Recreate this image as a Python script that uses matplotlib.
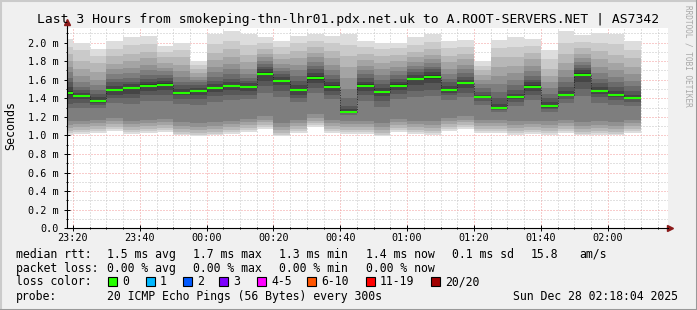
import numpy as np
import pandas as pd
import matplotlib
matplotlib.use("Agg")
import matplotlib.pyplot as plt
import matplotlib.dates as mdates
from matplotlib.patches import Rectangle
from matplotlib.lines import Line2D
from matplotlib.ticker import MultipleLocator, FuncFormatter

# ---- data (ms), one row of 20 sorted pings per 5 minute step ----
first_step = "2025-12-27 23:15"
view_start = pd.Timestamp("2025-12-27 23:18:04")
view_end = pd.Timestamp("2025-12-28 02:18:04")

median_ms = [1.46, 1.42, 1.375, 1.49, 1.51, 1.535, 1.545, 1.46, 1.48, 1.51,
             1.53, 1.52, 1.665, 1.59, 1.49, 1.62, 1.525, 1.255, 1.535, 1.47,
             1.535, 1.61, 1.63, 1.49, 1.56, 1.415, 1.29, 1.415, 1.525, 1.32,
             1.44, 1.655, 1.48, 1.44, 1.405]

loss_count = [0] * 35

smoke_ms = [
    [1.01, 1.03, 1.05, 1.08, 1.11, 1.15, 1.29, 1.34, 1.39, 1.44, 1.48, 1.52, 1.57, 1.62, 1.68, 1.74, 1.80, 1.88, 1.95, 2.04],
    [1.02, 1.04, 1.06, 1.09, 1.12, 1.16, 1.30, 1.35, 1.39, 1.41, 1.43, 1.46, 1.49, 1.52, 1.57, 1.64, 1.71, 1.80, 1.92, 2.00],
    [1.03, 1.05, 1.07, 1.10, 1.13, 1.17, 1.30, 1.33, 1.35, 1.37, 1.38, 1.41, 1.45, 1.49, 1.54, 1.60, 1.68, 1.78, 1.86, 1.93],
    [1.05, 1.07, 1.09, 1.12, 1.15, 1.19, 1.35, 1.40, 1.44, 1.48, 1.50, 1.53, 1.57, 1.61, 1.66, 1.71, 1.77, 1.85, 1.93, 2.02],
    [1.02, 1.04, 1.06, 1.09, 1.12, 1.16, 1.34, 1.40, 1.45, 1.50, 1.52, 1.55, 1.58, 1.62, 1.67, 1.73, 1.80, 1.88, 1.97, 2.06],
    [1.03, 1.05, 1.07, 1.10, 1.13, 1.17, 1.37, 1.43, 1.48, 1.52, 1.55, 1.58, 1.61, 1.65, 1.70, 1.76, 1.83, 1.90, 1.98, 2.07],
    [1.04, 1.06, 1.08, 1.11, 1.14, 1.18, 1.37, 1.43, 1.49, 1.53, 1.56, 1.59, 1.62, 1.65, 1.69, 1.73, 1.78, 1.84, 1.90, 1.96],
    [1.00, 1.02, 1.04, 1.07, 1.10, 1.14, 1.34, 1.39, 1.43, 1.45, 1.47, 1.50, 1.54, 1.58, 1.63, 1.69, 1.76, 1.84, 1.92, 2.00],
    [0.99, 1.01, 1.03, 1.06, 1.09, 1.13, 1.33, 1.39, 1.44, 1.47, 1.49, 1.51, 1.54, 1.57, 1.60, 1.63, 1.67, 1.71, 1.76, 1.80],
    [1.00, 1.02, 1.04, 1.07, 1.10, 1.14, 1.36, 1.42, 1.47, 1.50, 1.52, 1.55, 1.59, 1.63, 1.68, 1.74, 1.81, 1.89, 1.98, 2.09],
    [1.02, 1.04, 1.06, 1.09, 1.12, 1.16, 1.38, 1.44, 1.49, 1.52, 1.54, 1.57, 1.61, 1.66, 1.71, 1.77, 1.84, 1.93, 2.02, 2.12],
    [1.04, 1.06, 1.08, 1.11, 1.14, 1.18, 1.39, 1.44, 1.48, 1.51, 1.53, 1.56, 1.59, 1.62, 1.66, 1.72, 1.79, 1.87, 1.97, 2.09],
    [1.07, 1.09, 1.11, 1.14, 1.17, 1.21, 1.46, 1.53, 1.59, 1.65, 1.68, 1.71, 1.74, 1.77, 1.80, 1.84, 1.88, 1.93, 1.99, 2.06],
    [0.99, 1.01, 1.03, 1.06, 1.09, 1.13, 1.41, 1.48, 1.54, 1.58, 1.60, 1.63, 1.66, 1.69, 1.73, 1.77, 1.82, 1.88, 1.95, 2.02],
    [1.03, 1.05, 1.07, 1.10, 1.13, 1.17, 1.36, 1.40, 1.44, 1.48, 1.50, 1.54, 1.59, 1.64, 1.70, 1.76, 1.83, 1.91, 1.99, 2.07],
    [1.09, 1.11, 1.13, 1.16, 1.19, 1.23, 1.46, 1.51, 1.56, 1.60, 1.64, 1.67, 1.71, 1.75, 1.79, 1.84, 1.89, 1.95, 2.02, 2.09],
    [1.03, 1.05, 1.07, 1.10, 1.13, 1.17, 1.39, 1.44, 1.48, 1.51, 1.54, 1.57, 1.61, 1.65, 1.70, 1.76, 1.83, 1.91, 1.99, 2.07],
    [1.02, 1.04, 1.06, 1.09, 1.12, 1.16, 1.22, 1.24, 1.25, 1.25, 1.26, 1.28, 1.32, 1.40, 1.50, 1.62, 1.74, 1.86, 1.97, 2.09],
    [1.02, 1.04, 1.06, 1.09, 1.12, 1.16, 1.37, 1.43, 1.48, 1.52, 1.55, 1.58, 1.62, 1.66, 1.70, 1.75, 1.81, 1.88, 1.95, 2.02],
    [0.99, 1.01, 1.03, 1.06, 1.09, 1.13, 1.31, 1.37, 1.42, 1.46, 1.48, 1.51, 1.55, 1.60, 1.65, 1.71, 1.78, 1.85, 1.93, 2.00],
    [1.04, 1.06, 1.08, 1.11, 1.14, 1.18, 1.39, 1.45, 1.49, 1.52, 1.55, 1.58, 1.61, 1.65, 1.69, 1.74, 1.80, 1.87, 1.94, 2.00],
    [1.02, 1.04, 1.06, 1.09, 1.12, 1.16, 1.41, 1.48, 1.54, 1.60, 1.62, 1.65, 1.68, 1.71, 1.75, 1.79, 1.84, 1.90, 1.97, 2.06],
    [1.01, 1.03, 1.05, 1.08, 1.11, 1.15, 1.42, 1.49, 1.56, 1.61, 1.65, 1.68, 1.71, 1.74, 1.78, 1.82, 1.87, 1.93, 2.01, 2.09],
    [1.05, 1.07, 1.09, 1.12, 1.15, 1.19, 1.38, 1.43, 1.46, 1.48, 1.50, 1.53, 1.57, 1.61, 1.66, 1.72, 1.79, 1.86, 1.94, 2.02],
    [1.07, 1.09, 1.11, 1.14, 1.17, 1.21, 1.41, 1.46, 1.51, 1.55, 1.57, 1.60, 1.63, 1.67, 1.71, 1.76, 1.82, 1.88, 1.95, 2.03],
    [1.03, 1.05, 1.07, 1.10, 1.13, 1.17, 1.33, 1.37, 1.40, 1.41, 1.42, 1.44, 1.47, 1.51, 1.55, 1.60, 1.65, 1.70, 1.75, 1.80],
    [1.03, 1.05, 1.07, 1.10, 1.13, 1.17, 1.25, 1.27, 1.28, 1.28, 1.30, 1.34, 1.40, 1.47, 1.55, 1.64, 1.74, 1.84, 1.94, 2.03],
    [1.01, 1.03, 1.05, 1.08, 1.11, 1.15, 1.32, 1.36, 1.39, 1.41, 1.42, 1.45, 1.49, 1.54, 1.60, 1.67, 1.75, 1.84, 1.95, 2.06],
    [1.02, 1.04, 1.06, 1.09, 1.12, 1.16, 1.38, 1.44, 1.48, 1.51, 1.54, 1.57, 1.60, 1.64, 1.69, 1.75, 1.82, 1.89, 1.96, 2.04],
    [1.01, 1.03, 1.05, 1.08, 1.11, 1.15, 1.25, 1.28, 1.30, 1.31, 1.33, 1.36, 1.40, 1.45, 1.51, 1.57, 1.64, 1.72, 1.82, 1.92],
    [1.03, 1.05, 1.07, 1.10, 1.13, 1.17, 1.35, 1.39, 1.42, 1.43, 1.45, 1.48, 1.52, 1.57, 1.63, 1.70, 1.78, 1.88, 1.99, 2.12],
    [1.00, 1.02, 1.04, 1.07, 1.10, 1.14, 1.42, 1.50, 1.57, 1.64, 1.67, 1.70, 1.73, 1.76, 1.79, 1.83, 1.88, 1.94, 2.01, 2.08],
    [1.01, 1.03, 1.05, 1.08, 1.11, 1.15, 1.35, 1.41, 1.45, 1.47, 1.49, 1.52, 1.56, 1.61, 1.67, 1.74, 1.82, 1.91, 2.00, 2.10],
    [1.00, 1.02, 1.04, 1.07, 1.10, 1.14, 1.33, 1.38, 1.41, 1.43, 1.45, 1.48, 1.52, 1.57, 1.63, 1.70, 1.78, 1.87, 1.98, 2.09],
    [1.03, 1.05, 1.07, 1.10, 1.13, 1.17, 1.32, 1.36, 1.39, 1.40, 1.41, 1.44, 1.48, 1.53, 1.59, 1.66, 1.74, 1.83, 1.92, 2.02],
]

loss_labels = ["0", "1", "2", "3", "4-5", "6-10", "11-19", "20/20"]
loss_colors = ["#26ff00", "#00b8ff", "#0059ff", "#7e00ff", "#ff00ff", "#ff5500", "#ff0000", "#a10000"]

title = "Last 3 Hours from smokeping-thn-lhr01.pdx.net.uk to A.ROOT-SERVERS.NET | AS7342"

W, H = 697, 310
MONO = "DejaVu Sans Mono"
plt.rcParams["font.family"] = MONO


def fx(px):
    return px / W


def fy(py):
    return 1 - py / H


fig = plt.figure(figsize=(W / 100, H / 100), dpi=100, facecolor="#f0f0f0")

# 3d-ish frame like rrdtool
fig.add_artist(Line2D([0, 0], [0, 1], color="#cbcbcb", lw=2.2, transform=fig.transFigure))
fig.add_artist(Line2D([0, 1], [1, 1], color="#cbcbcb", lw=2.2, transform=fig.transFigure))
fig.add_artist(Line2D([1, 1], [0, 1], color="#999999", lw=2.2, transform=fig.transFigure))
fig.add_artist(Line2D([0, 1], [0, 0], color="#999999", lw=2.2, transform=fig.transFigure))

ax = fig.add_axes([fx(66.5), fy(228.3), fx(668) - fx(66.5), (228.3 - 27.7) / H])
ax.set_facecolor("white")

times = pd.date_range(first_step, periods=len(median_ms), freq="5min")
step = pd.Timedelta(minutes=5)
width = step / pd.Timedelta(days=1)
smoke = np.array(smoke_ms)
half = smoke.shape[1] // 2

# smoke: outer pairs light, inner pairs dark
for k in range(half):
    g = int(190 / half * (half - (k + 1))) + 50
    col = "#%02x%02x%02x" % (g, g, g)
    lo = smoke[:, k]
    hi = smoke[:, -1 - k]
    ax.bar(times, hi - lo, bottom=lo, width=width, align="edge",
           color=col, linewidth=0, zorder=1)

med = np.array(median_ms)
ax.vlines(times[1:], med[:-1], med[1:], color="#1a1a1a", lw=0.6,
          linestyles=(0, (1, 2)), zorder=3)
line_cols = [loss_colors[0] if c == 0 else loss_colors[-1] for c in loss_count]
ax.hlines(med, times, times + step, colors=line_cols, lw=1.5, zorder=4)

ax.set_xlim(view_start, view_end)
ax.set_ylim(0, 2.16)

ax.xaxis.set_major_locator(mdates.MinuteLocator(byminute=[0, 20, 40]))
ax.xaxis.set_minor_locator(mdates.MinuteLocator(byminute=range(0, 60, 5)))
ax.xaxis.set_major_formatter(mdates.DateFormatter("%H:%M"))
ax.yaxis.set_major_locator(MultipleLocator(0.2))
ax.yaxis.set_minor_locator(MultipleLocator(0.1))
ax.yaxis.set_major_formatter(FuncFormatter(lambda v, p: "0.0" if abs(v) < 1e-9 else "%.1f m" % v))

ax.set_axisbelow(True)
ax.grid(which="minor", color="#c4c4c4", lw=0.72, ls=(0, (1, 2)))
ax.grid(which="major", color="#f29a9a", lw=0.72, ls=(0, (1, 2)))

for s in ["top", "right"]:
    ax.spines[s].set_visible(False)
for s in ["left", "bottom"]:
    ax.spines[s].set_color("black")
    ax.spines[s].set_linewidth(0.8)
    ax.spines[s].set_zorder(5)

ax.tick_params(which="major", direction="inout", length=4, width=0.7, labelsize=7.3, pad=1.5)
ax.tick_params(which="minor", direction="inout", length=2, width=0.7)
ax.tick_params(axis="y", pad=3.5)

# arrows at axis ends
ax.plot([0, 0], [1, 1.03], color="black", lw=0.8, transform=ax.transAxes, clip_on=False)
ax.plot(0, 1.03, marker="^", ms=4.5, color="#8b1a1a", transform=ax.transAxes, clip_on=False)
ax.plot(1.004, 0, marker=">", ms=4.5, color="#8b1a1a", transform=ax.transAxes, clip_on=False)

fig.text(fx(11), fy(126), "Seconds", rotation=90, ha="center", va="center", fontsize=8.4)
fig.text(0.5, fy(19), title, ha="center", va="center", fontsize=9.4, color="black")
fig.text(fx(688), fy(5), "RRDTOOL / TOBI OETIKER", rotation=270, ha="center", va="top",
         fontsize=5.6, color="#a8a8a8")

# legend
cols = [16, 107, 193.3, 279, 365.7, 451.7, 531, 579.3]
rows = [254.3, 268.3, 281.7, 296.7]
fs = 8.3
rtt_items = ["median rtt:", "1.5 ms avg", "1.7 ms max", "1.3 ms min", "1.4 ms now",
             "0.1 ms sd", "15.8", "am/s"]
for x, t in zip(cols, rtt_items):
    fig.text(fx(x), fy(rows[0]), t, ha="left", va="center", fontsize=fs)
loss_items = ["packet loss:", "0.00 % avg", "0.00 % max", "0.00 % min", "0.00 % now"]
for x, t in zip(cols, loss_items):
    fig.text(fx(x), fy(rows[1]), t, ha="left", va="center", fontsize=fs)

fig.text(fx(16), fy(rows[2]), "loss color:", ha="left", va="center", fontsize=fs)
box_x = [108.3, 145.7, 182.7, 219.3, 256.7, 307.3, 365.7, 430.7]
for bx, lab, c in zip(box_x, loss_labels, loss_colors):
    fig.add_artist(Rectangle((fx(bx), fy(rows[2] + 4.5)), 9 / W, 9 / H, facecolor=c,
                             edgecolor="black", lw=0.8, transform=fig.transFigure))
    fig.text(fx(bx + 14.3), fy(rows[2]), lab, ha="left", va="center", fontsize=fs)

fig.text(fx(16), fy(rows[3]), "probe:", ha="left", va="center", fontsize=fs)
fig.text(fx(107), fy(rows[3]), "20 ICMP Echo Pings (56 Bytes) every 300s", ha="left", va="center", fontsize=fs)
fig.text(fx(513), fy(rows[3]), "Sun Dec 28 02:18:04 2025", ha="left", va="center", fontsize=fs)

fig.savefig("out.png", dpi=100, facecolor=fig.get_facecolor())
